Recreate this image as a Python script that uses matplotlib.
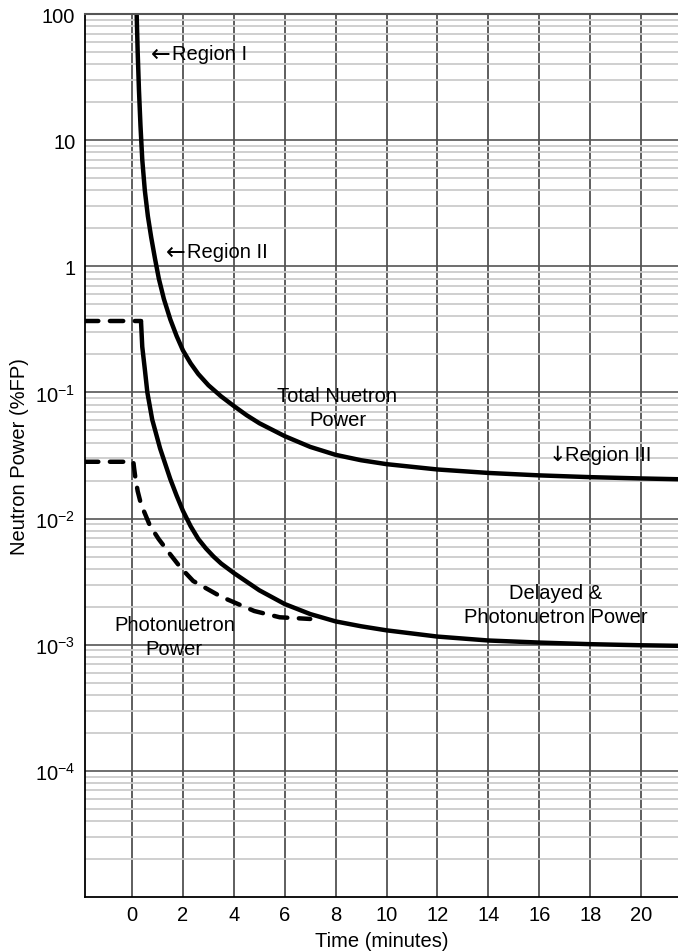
import matplotlib
matplotlib.use("Agg")
import matplotlib.pyplot as plt
from matplotlib.ticker import FixedLocator, LogLocator, NullFormatter

plt.rcParams['font.family'] = ['Liberation Sans', 'DejaVu Sans']

# total neutron power (solid)
total_t = [0.18, 0.22, 0.27, 0.33, 0.4, 0.5, 0.62, 0.75, 0.9, 1.05, 1.25, 1.5, 1.75, 2.0,
           2.3, 2.6, 3.0, 3.5, 4.0, 4.5, 5.0, 6.0, 7.0, 8.0, 9.0, 10.0, 12.0, 14.0, 16.0,
           18.0, 20.0, 21.5]
total_p = [100, 50, 25, 13, 7, 4, 2.5, 1.7, 1.15, 0.8, 0.55, 0.38, 0.28, 0.215,
           0.17, 0.14, 0.114, 0.093, 0.078, 0.066, 0.057, 0.045, 0.037, 0.032, 0.029,
           0.027, 0.0245, 0.023, 0.022, 0.0213, 0.0208, 0.0205]

# delayed & photoneutron power (solid)
delayed_t = [0.35, 0.4, 0.5, 0.6, 0.79, 1.1, 1.5, 1.75, 2.0, 2.3, 2.6, 2.9, 3.2, 3.5, 4.0,
             5.0, 6.0, 7.0, 8.0, 9.0, 10.0, 12.0, 14.0, 16.0, 18.0, 20.0, 21.5]
delayed_p = [0.367, 0.23, 0.153, 0.1, 0.061, 0.036, 0.0206, 0.0152, 0.0115, 0.0087, 0.0069,
             0.0058, 0.005, 0.0044, 0.0037, 0.0027, 0.0021, 0.00175, 0.00153, 0.0014,
             0.0013, 0.00116, 0.00108, 0.00104, 0.00101, 0.00099, 0.00098]

# pre-trip level of delayed power (dashed)
delayed_pre_t = [-1.85, 0.35]
delayed_pre_p = [0.367, 0.367]

# photoneutron power (dashed)
photo_t = [-1.85, 0.05, 0.08, 0.13, 0.22, 0.35, 0.5, 0.7, 1.04, 1.5, 1.9, 2.4, 3.5, 4.8,
           5.8, 7.0]
photo_p = [0.0282, 0.0282, 0.025, 0.021, 0.0165, 0.013, 0.011, 0.0088, 0.0069, 0.0052,
           0.0041, 0.0032, 0.0024, 0.00185, 0.00165, 0.0016]

x_ticks = [0, 2, 4, 6, 8, 10, 12, 14, 16, 18, 20]
y_ticks = [1e-4, 1e-3, 1e-2, 1e-1, 1, 10, 100]
y_labels = [r'$\mathregular{10^{-4}}$', r'$\mathregular{10^{-3}}$', r'$\mathregular{10^{-2}}$',
            r'$\mathregular{10^{-1}}$', '1', '10', '100']

# region labels: (arrow, arrow x, text x, y, text)
regions = [('\u2190', 1.11, 1.57, 48.6, 'Region I'),
           ('\u2190', 1.70, 2.16, 1.3, 'Region II'),
           ('\u2193', 16.73, 17.02, 0.0324, 'Region III')]

fs = 14.5

fig = plt.figure(figsize=(6.78, 9.53), dpi=100)
ax = fig.add_axes([85/678, 55/953, 593/678, 883/953])
ax.set_yscale('log')
ax.set_xlim(-1.85, 21.45)
ax.set_ylim(1e-5, 100)

ax.yaxis.set_major_locator(FixedLocator(y_ticks))
ax.set_yticklabels(y_labels)
ax.yaxis.set_minor_locator(LogLocator(base=10, subs=range(2, 10), numticks=20))
ax.yaxis.set_minor_formatter(NullFormatter())
ax.set_xticks(x_ticks)

ax.grid(which='minor', axis='y', color='#cccccc', lw=1.3)
ax.grid(which='major', axis='y', color='#555555', lw=1.2)
ax.grid(which='major', axis='x', color='#333333', lw=1.1)
ax.set_axisbelow(True)
ax.tick_params(which='both', length=0, labelsize=fs)
ax.tick_params(axis='y', pad=7)
ax.tick_params(axis='x', pad=6)

for s in ['left', 'bottom']:
    ax.spines[s].set_color('black')
    ax.spines[s].set_linewidth(1.3)
ax.spines['top'].set_color('#555555')
ax.spines['top'].set_linewidth(1.5)
ax.spines['right'].set_visible(False)

lw = 3.2
ax.plot(total_t, total_p, color='black', lw=lw, solid_capstyle='round')
ax.plot(delayed_t, delayed_p, color='black', lw=lw, solid_capstyle='round')
ax.plot(delayed_pre_t, delayed_pre_p, color='black', lw=lw, dashes=(3.0, 2.6),
        dash_capstyle='round')
ax.plot(photo_t, photo_p, color='black', lw=lw, dashes=(3.0, 2.6), dash_capstyle='round')

for arrow, ax_x, tx_x, yy, label in regions:
    ax.text(ax_x, yy, arrow, fontsize=17 if arrow == '\u2190' else 15,
            family='DejaVu Sans', ha='center', va='center')
    ax.text(tx_x, yy, label, fontsize=fs, ha='left', va='center')

ax.text(8.07, 0.0759, 'Total Nuetron\nPower', fontsize=fs, ha='center', va='center',
        linespacing=1.3)
ax.text(16.63, 0.00209, 'Delayed &\nPhotonuetron Power', fontsize=fs, ha='center',
        va='center', linespacing=1.35)
ax.text(1.66, 0.00116, 'Photonuetron\nPower', fontsize=fs, ha='center', va='center',
        linespacing=1.35)

ax.set_xlabel('Time (minutes)', fontsize=fs)
ax.xaxis.set_label_coords(0.5, -0.038)
ax.set_ylabel('Neutron Power (%FP)', fontsize=fs, labelpad=4)

fig.savefig('out.png', dpi=100)
